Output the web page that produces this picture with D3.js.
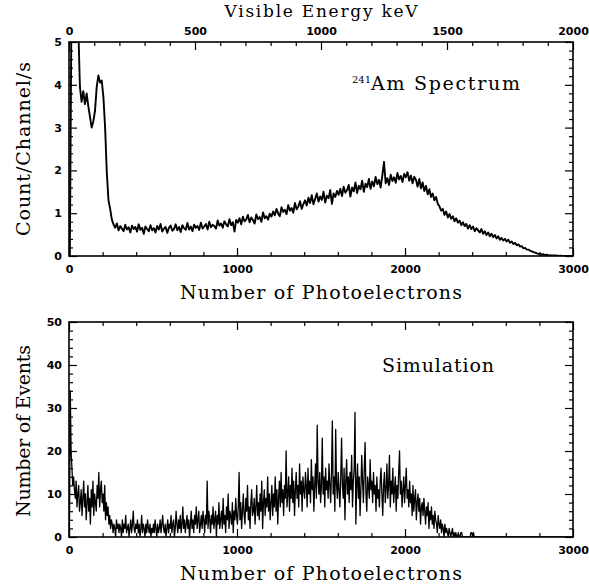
<!DOCTYPE html>
<html><head><meta charset="utf-8">
<script src="https://cdn.jsdelivr.net/npm/d3@7"></script>
<style>
body{margin:0;background:#fff;}
svg{display:block;}
.tick text{font-family:"DejaVu Sans";font-weight:bold;font-size:11px;fill:#000;}
.domain{display:none;}
.tick line{stroke:#000;stroke-width:1.2;}
.ttl{font-family:"DejaVu Serif";fill:#000;}
</style></head><body>
<script>
// ---- data ----
const measuredBin = 10;  // photoelectrons per bin (top)
const simulatedBin = 5;  // photoelectrons per bin (bottom)
// measured spectrum (Count/Channel/s), bins 0..2990 PE
const measured = [
0,6,6,6,6,5.4,3.95,3.6,3.85,3.55,3.8,3.5,3.25,3.0,3.15,3.4,3.95,4.22,4.05,4.1,
3.7,3.0,1.95,1.3,1.1,0.85,0.74,0.66,0.76,0.60,0.70,0.64,0.58,0.73,0.62,0.67,0.55,0.71,0.63,0.68,
0.57,0.74,0.61,0.66,0.52,0.69,0.63,0.58,0.72,0.60,0.65,0.55,0.70,0.62,0.75,0.57,0.64,0.68,0.54,0.66,
0.71,0.59,0.63,0.74,0.60,0.68,0.56,0.72,0.65,0.61,0.77,0.62,0.69,0.58,0.73,0.66,0.70,0.61,0.78,0.64,
0.69,0.75,0.62,0.80,0.67,0.73,0.70,0.64,0.83,0.71,0.76,0.66,0.81,0.74,0.69,0.86,0.72,0.79,0.57,0.84,
0.78,0.88,0.74,0.92,0.81,0.85,0.96,0.79,0.90,0.84,0.76,0.97,0.86,0.91,0.80,1.02,0.88,0.93,0.85,0.99,
0.92,1.04,0.95,1.10,0.99,0.93,1.14,1.03,1.08,0.98,1.19,1.06,1.12,1.01,1.24,1.09,1.16,1.28,1.10,1.21,
1.30,1.18,1.36,1.24,1.42,1.21,1.33,1.46,1.27,1.39,1.31,1.50,1.25,1.41,1.35,1.54,1.22,1.46,1.38,1.52,
1.43,1.57,1.40,1.62,1.48,1.54,1.66,1.39,1.60,1.51,1.72,1.47,1.64,1.56,1.76,1.50,1.69,1.61,1.80,1.57,
1.74,1.63,1.85,1.68,1.78,1.60,1.88,2.20,1.70,1.82,1.66,1.90,1.75,1.84,1.71,1.94,1.79,1.87,1.73,1.92,
1.84,1.96,1.76,1.88,1.70,1.85,1.78,1.62,1.80,1.58,1.72,1.52,1.64,1.44,1.56,1.38,1.46,1.30,1.38,1.22,
1.16,1.06,1.10,0.96,1.04,0.90,0.98,0.87,0.93,0.81,0.88,0.78,0.83,0.72,0.79,0.70,0.75,0.64,0.72,0.63,
0.69,0.58,0.65,0.60,0.55,0.63,0.52,0.58,0.49,0.55,0.46,0.52,0.44,0.49,0.41,0.46,0.38,0.42,0.36,0.40,
0.34,0.38,0.31,0.34,0.28,0.31,0.25,0.27,0.22,0.23,0.18,0.19,0.15,0.15,0.12,0.11,0.09,0.08,0.06,0.05,
0.05,0.03,0.04,0.02,0.03,0.01,0.02,0.01,0.01,0.01,0.01,0.00,0.01,0.00,0.00,0.00,0.00,0.00,0.00,0.00
];
// simulated spectrum (Number of Events), bins 0..2995 PE
const simulated = [
0,34,20,16,12,14,11,9,13,7,10,12,6,8,11,5,9,13,7,10,
4,8,12,6,9,3,11,7,13,5,10,8,6,12,9,15,7,11,13,8,
10,6,12,4,8,5,7,3,5,2,4,3,1,3,2,0,4,2,3,1,
3,2,0,4,1,3,2,5,1,2,3,0,2,4,1,3,6,2,1,3,
2,4,1,3,0,2,5,1,3,2,0,3,1,4,2,1,3,0,2,1,
3,1,4,2,0,3,1,2,4,1,3,5,2,1,3,0,2,4,1,3,
2,5,1,3,4,0,2,6,3,1,4,2,5,1,3,7,2,4,1,3,
5,2,4,0,3,6,2,4,1,5,3,7,2,4,6,1,3,5,2,6,
4,1,5,3,13,2,6,4,1,5,3,7,2,4,6,0,5,3,8,2,
4,6,2,9,3,5,1,7,4,10,2,6,5,3,8,1,6,4,9,5,
3,7,15,4,8,2,6,10,5,3,9,6,12,4,7,2,8,11,5,6,
9,3,7,12,5,8,4,10,6,13,2,8,11,5,9,7,14,6,10,4,
8,12,5,10,7,14,6,11,3,9,13,7,15,8,11,5,12,9,20,7,
10,14,6,12,9,16,8,13,5,11,15,9,12,7,17,10,13,6,14,11,
9,15,12,7,16,10,13,8,18,11,14,6,12,17,9,26,13,10,15,8,
12,23,10,14,7,16,11,13,9,17,12,8,15,27,10,14,6,25,12,9,
15,11,7,14,23,12,9,16,4,13,18,10,14,8,15,11,19,7,13,16,
29,3,12,17,9,14,5,11,19,13,8,16,22,10,6,14,12,9,18,11,
13,8,15,10,12,6,14,9,11,7,13,16,10,5,12,15,8,11,17,9,
12,19,7,13,10,16,8,11,14,6,12,9,15,20,10,13,7,11,14,8,
12,16,9,11,7,13,8,10,5,12,6,9,11,4,8,10,6,9,3,7,
8,5,9,6,3,7,5,8,2,6,4,7,3,5,2,6,4,3,1,5,
3,2,4,1,3,2,0,3,1,2,1,0,2,1,0,1,2,0,1,0,
1,0,0,1,0,0,1,1,0,0,0,0,0,0,0,0,0,0,1,1,
0,1,0,0,0,0,0,0,0,0,0,0,0,0,0,0,0,0,0,0,
0,0,0,0,0,0,0,0,0,0,0,0,0,0,0,0,0,0,0,0,
0,0,0,0,0,0,0,0,0,0,0,0,0,0,0,0,0,0,0,0,
0,0,0,0,0,0,0,0,0,0,0,0,0,0,0,0,0,0,0,0,
0,0,0,0,0,0,0,0,0,0,0,0,0,0,0,0,0,0,0,0,
0,0,0,0,0,0,0,0,0,0,0,0,0,0,0,0,0,0,0,0
];
const peMajor = [0,1000,2000,3000];
const keVMajor = [0,500,1000,1500,2000];
const countMajor = [0,1,2,3,4,5];
const eventMajor = [0,10,20,30,40,50];

// ---- layout ----
const W=589,H=586, L=69, R=573;
const svg=d3.select("body").append("svg").attr("width",W).attr("height",H);

function panel(top,bottom,yMax,yMajor,yMinorStep,data,bin,sw,clipId){
  const x=d3.scaleLinear().domain([0,3000]).range([L,R]);
  const y=d3.scaleLinear().domain([0,yMax]).range([bottom,top]);
  const g=svg.append("g");
  g.append("clipPath").attr("id",clipId).append("rect")
    .attr("x",L).attr("y",top).attr("width",R-L).attr("height",bottom-top);
  const pts=data.map((v,i)=>[i*bin+bin/2,v]);
  const line=d3.line().x(d=>x(d[0])).y(d=>y(d[1]));
  g.append("path").attr("clip-path","url(#"+clipId+")").attr("d",line(pts))
    .attr("fill","none").attr("stroke","#000").attr("stroke-width",sw).attr("stroke-linejoin","round");
  const peMinor=d3.range(0,3001,200).filter(v=>v%1000);
  const yMinor=d3.range(0,yMax+1e-9,yMinorStep).filter(v=>!yMajor.some(m=>Math.abs(m-v)<1e-9));
  g.append("g").attr("transform",`translate(0,${bottom})`).call(d3.axisBottom(x).tickValues(peMajor).tickSize(-8).tickPadding(9).tickFormat(d3.format("d")));
  g.append("g").attr("transform",`translate(0,${bottom})`).call(d3.axisBottom(x).tickValues(peMinor).tickSize(-4).tickFormat(""));
  g.append("g").attr("transform",`translate(${L},0)`).call(d3.axisLeft(y).tickValues(yMajor).tickSize(-8).tickPadding(7).tickFormat(d3.format("d")));
  g.append("g").attr("transform",`translate(${L},0)`).call(d3.axisLeft(y).tickValues(yMinor).tickSize(-4).tickFormat(""));
  g.append("g").attr("transform",`translate(${R},0)`).call(d3.axisRight(y).tickValues(yMajor).tickSize(-8).tickFormat(""));
  g.append("g").attr("transform",`translate(${R},0)`).call(d3.axisRight(y).tickValues(yMinor).tickSize(-4).tickFormat(""));
  g.append("rect").attr("x",L).attr("y",top).attr("width",R-L).attr("height",bottom-top)
    .attr("fill","none").attr("stroke","#000").attr("stroke-width",1.6);
  return {x,y,g};
}

// top panel
const p1=panel(42,256,5,countMajor,0.2,measured,measuredBin,1.9,"c1");
const xk=d3.scaleLinear().domain([0,2000]).range([L,R]);
const keVMinor=d3.range(0,2001,100).filter(v=>v%500);
p1.g.append("g").attr("transform","translate(0,42)").call(d3.axisTop(xk).tickValues(keVMajor).tickSize(-8).tickPadding(7).tickFormat(d3.format("d")));
p1.g.append("g").attr("transform","translate(0,42)").call(d3.axisTop(xk).tickValues(keVMinor).tickSize(-4).tickFormat(""));

// bottom panel
const p2=panel(322,537,50,eventMajor,2,simulated,simulatedBin,1.3,"c2");
const peMinorTop=d3.range(0,3001,200).filter(v=>v%1000);
p2.g.append("g").attr("transform","translate(0,322)").call(d3.axisTop(p2.x).tickValues(peMajor).tickSize(-8).tickFormat(""));
p2.g.append("g").attr("transform","translate(0,322)").call(d3.axisTop(p2.x).tickValues(peMinorTop).tickSize(-4).tickFormat(""));

// titles
function txt(x,y,s,size,len,rot){
  const t=svg.append("text").attr("class","ttl").attr("text-anchor","middle")
    .attr("font-size",size).attr("textLength",len).attr("lengthAdjust","spacing").text(s);
  if(rot) t.attr("transform",`translate(${x},${y}) rotate(-90)`); else t.attr("x",x).attr("y",y);
  return t;
}
txt(321,17,"Visible Energy keV",17,193);
txt(321,299,"Number of Photoelectrons",19,282);
txt(321,580,"Number of Photoelectrons",19,282);
txt(30,149,"Count/Channel/s",19,174,true);
txt(30,431,"Number of Events",19,172,true);
svg.append("text").attr("class","ttl").attr("x",352).attr("y",83).attr("font-size",10).text("241");
svg.append("text").attr("class","ttl").attr("x",371).attr("y",90).attr("font-size",19)
  .attr("textLength",149).attr("lengthAdjust","spacing").text("Am Spectrum");
svg.append("text").attr("class","ttl").attr("x",382).attr("y",372).attr("font-size",19)
  .attr("textLength",112).attr("lengthAdjust","spacing").text("Simulation");
</script></body></html>
